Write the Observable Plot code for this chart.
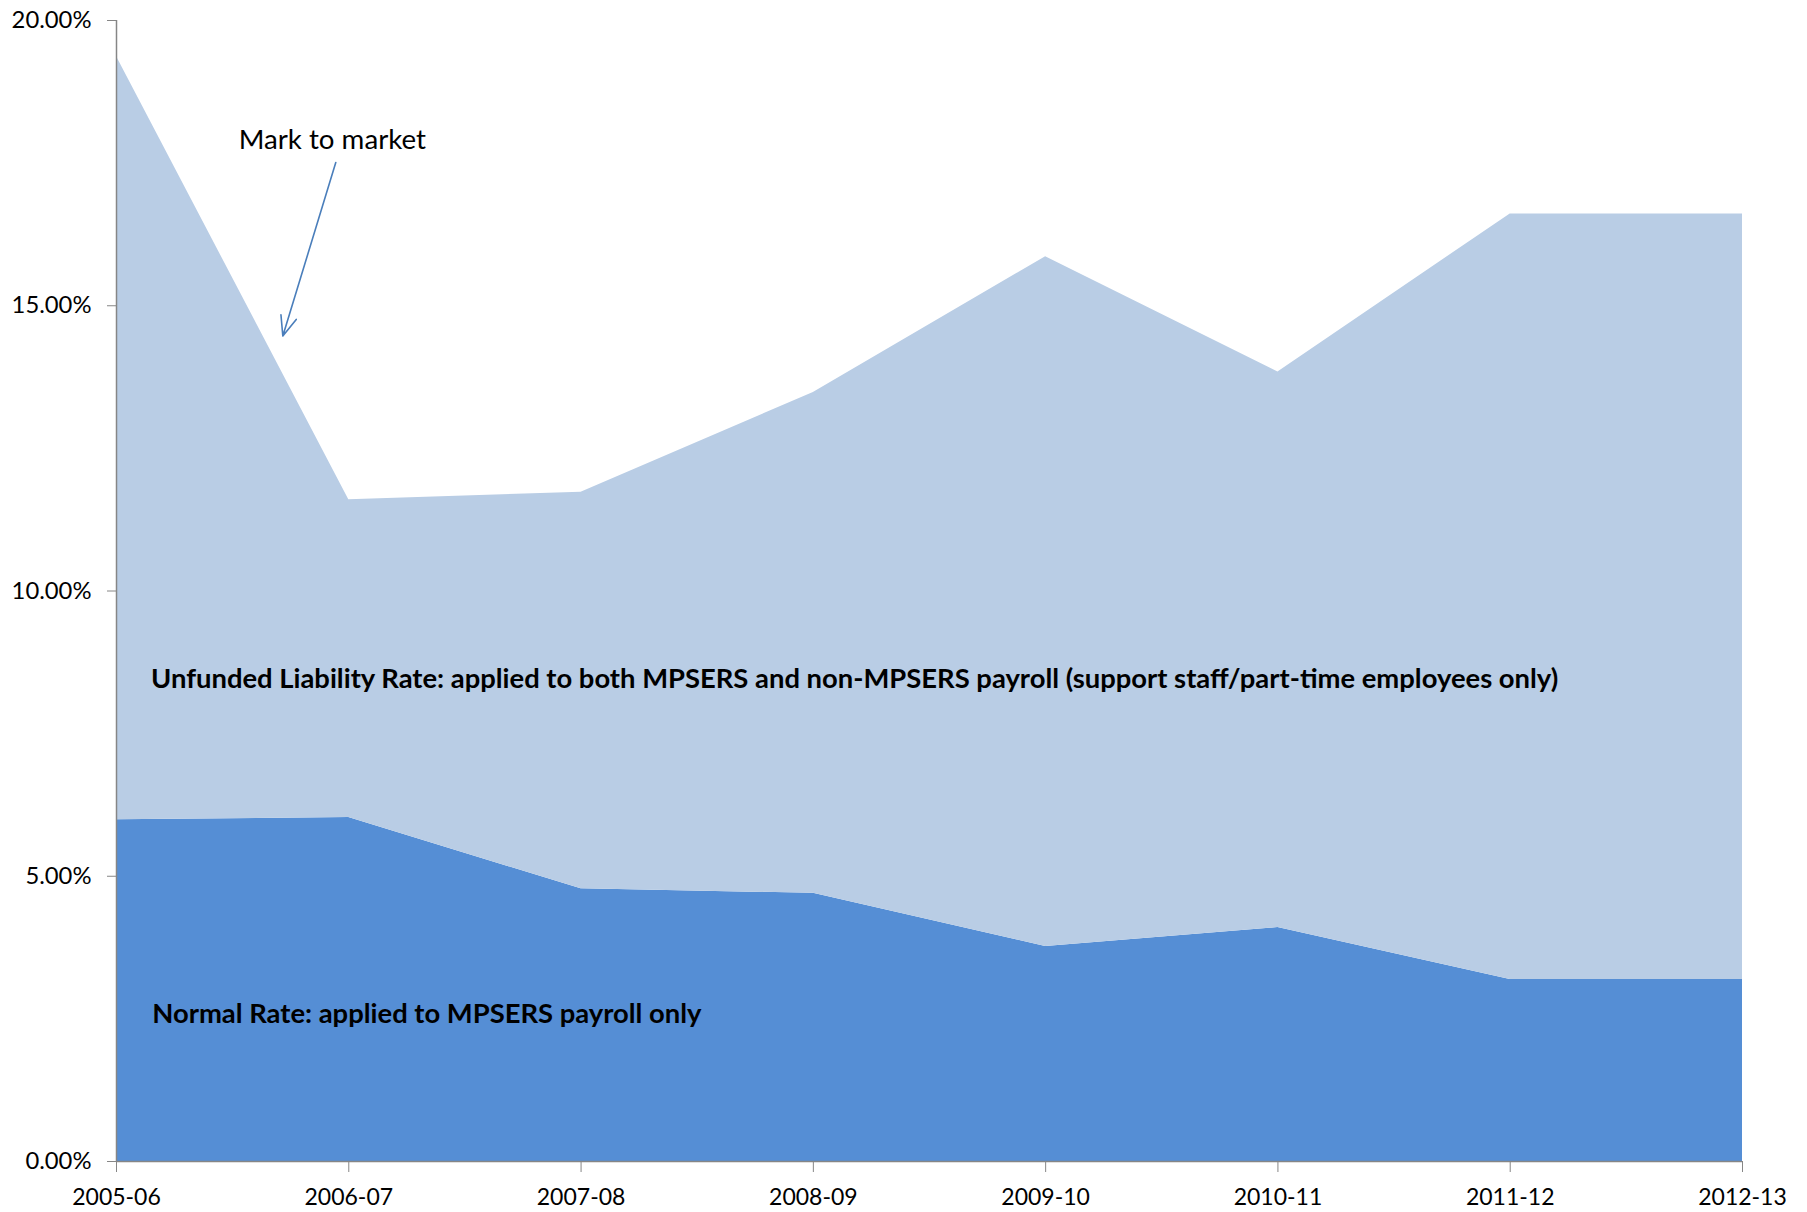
<!DOCTYPE html>
<html>
<head>
<meta charset="utf-8">
<script src="https://cdn.jsdelivr.net/npm/d3@7"></script>
<script src="https://cdn.jsdelivr.net/npm/@observablehq/plot@0.6"></script>
<style>
  html, body { margin: 0; padding: 0; background: #fff; }
  #chart svg { display: block; }
</style>
</head>
<body>
<div id="chart"></div>
<script>
const years = ["2005-06", "2006-07", "2007-08", "2008-09", "2009-10", "2010-11", "2011-12", "2012-13"];
const normalRate = [5.99, 6.03, 4.78, 4.70, 3.77, 4.10, 3.19, 3.19];
const unfundedRate = [13.38, 5.57, 6.95, 8.78, 12.09, 9.74, 13.42, 13.42];
const seriesNames = ["Normal Rate", "Unfunded Liability Rate"];
const seriesColors = ["#558ED5", "#B9CDE5"];
const yTicks = [0, 5, 10, 15, 20];

const areaLabels = [
  {text: "Unfunded Liability Rate: applied to both MPSERS and non-MPSERS payroll (support staff/part-time employees only)", x: 0.149, y: 8.46},
  {text: "Normal Rate: applied to MPSERS payroll only", x: 0.154, y: 2.58}
];
const calloutText = [{text: "Mark to market", x: 0.526, y: 17.91}];
const calloutArrow = [{x1: 0.944, y1: 17.51, x2: 0.716, y2: 14.47}];

const rows = [];
years.forEach((yr, i) => {
  rows.push({i, series: seriesNames[0], value: normalRate[i]});
  rows.push({i, series: seriesNames[1], value: unfundedRate[i]});
});

const font = "Lato, 'Open Sans', sans-serif";
const axisColor = "#868686";

const chart = Plot.plot({
  width: 1807,
  height: 1212,
  marginLeft: 116,
  marginRight: 65,
  marginTop: 20,
  marginBottom: 51,
  style: {fontFamily: font, background: "#fff", color: "#000"},
  x: {domain: [0, years.length - 1], axis: null},
  y: {domain: [0, 20], axis: null},
  color: {domain: seriesNames, range: seriesColors},
  marks: [
    Plot.areaY(rows, Plot.stackY({x: "i", y: "value", z: "series", fill: "series", order: seriesNames})),
    Plot.ruleX([0], {stroke: axisColor, strokeWidth: 1.5}),
    Plot.ruleY([0], {stroke: axisColor, strokeWidth: 1.5}),
    Plot.axisY({
      ticks: yTicks, tickSize: 9, tickPadding: 16, stroke: axisColor,
      tickFormat: d => d.toFixed(2) + "%", fontSize: 23.8, fill: "#000", label: null
    }),
    Plot.axisX({
      ticks: d3.range(years.length), tickSize: 11, tickPadding: 16, stroke: axisColor,
      tickFormat: i => years[i], fontSize: 23, fill: "#000", label: null
    }),
    Plot.text(areaLabels, {x: "x", y: "y", text: "text", textAnchor: "start", fontWeight: "bold", fontSize: 27.4, fill: "#000"}),
    Plot.text(calloutText, {x: "x", y: "y", text: "text", textAnchor: "start", fontSize: 27.7, fill: "#000"}),
    Plot.arrow(calloutArrow, {x1: "x1", y1: "y1", x2: "x2", y2: "y2", stroke: "#4A7EBB", strokeWidth: 1.6, headLength: 20, headAngle: 44})
  ]
});
document.getElementById("chart").appendChild(chart);
</script>
</body>
</html>
